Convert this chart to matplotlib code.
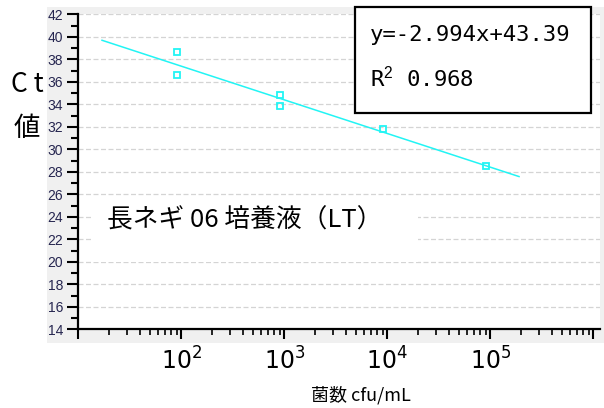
import numpy as np
import matplotlib.pyplot as plt
from matplotlib.patches import Rectangle
from matplotlib.ticker import LogLocator, NullFormatter, MultipleLocator

# 菌数 (cfu/mL) と Ct 値
cfu = [90, 90, 900, 900, 9000, 90000]
ct = [38.7, 36.6, 34.8, 33.9, 31.8, 28.5]

# 回帰式 y = slope * log10(x) + intercept
slope = -2.994
intercept = 43.39
r2 = 0.968
fit_range = [17, 1.9e5]

x_ticks = [1e2, 1e3, 1e4, 1e5]
x_ticklabels = [r'$\mathregular{10^{2}}$', r'$\mathregular{10^{3}}$',
                r'$\mathregular{10^{4}}$', r'$\mathregular{10^{5}}$']
y_ticks = list(range(14, 43, 2))

sample_label = '長ネギ 06 培養液（LT）'
xlabel = '菌数 cfu/mL'

plt.rcParams['mathtext.fontset'] = 'custom'
plt.rcParams['mathtext.rm'] = 'Liberation Sans'
plt.rcParams['mathtext.it'] = 'Liberation Sans:italic'
plt.rcParams['mathtext.bf'] = 'Liberation Sans:bold'

jp = ['Noto Sans CJK JP', 'DejaVu Sans']
cyan = '#22f4f4'

fig = plt.figure(figsize=(6.04, 4.08), dpi=100)

# 目盛り部分の灰色の背景
fig.patches.append(Rectangle((0.0778, 0.1593), 0.9222, 0.8235, transform=fig.transFigure,
                             facecolor='#f0f0f0', edgecolor='none', zorder=-1))

ax = fig.add_axes([0.1296, 0.1929, 0.8638, 0.7716])
ax.set_facecolor('white')
ax.set_xscale('log')
ax.set_xlim(10, 10 ** 6.065)
ax.set_ylim(14, 42)

for side in ['top', 'right']:
    ax.spines[side].set_visible(False)
for side in ['left', 'bottom']:
    ax.spines[side].set_linewidth(1.6)

ax.set_yticks(y_ticks)
ax.yaxis.set_minor_locator(MultipleLocator(1))
ax.tick_params(axis='y', which='major', length=8, width=1.5, pad=3,
               labelsize=10, labelcolor='#262650')
ax.tick_params(axis='y', which='minor', length=5, width=1.5)
for lab in ax.get_yticklabels():
    lab.set_family('Liberation Sans')

ax.xaxis.set_major_locator(LogLocator(base=10, numticks=10))
ax.xaxis.set_minor_locator(LogLocator(base=10, subs=np.arange(2, 10), numticks=20))
ax.xaxis.set_minor_formatter(NullFormatter())
ax.tick_params(axis='x', which='major', length=7, width=1.5, pad=6, labelsize=17)
ax.tick_params(axis='x', which='minor', length=4, width=1.2)
ax.set_xticks([10] + x_ticks + [1e6])
ax.set_xticklabels([''] + x_ticklabels + [''])

ax.grid(axis='y', which='major', color='#d4d4d4', linestyle=(0, (4, 2)), linewidth=0.9)
ax.set_axisbelow(True)

# 近似直線
xf = np.array(fit_range)
ax.plot(xf, slope * np.log10(xf) + intercept, color=cyan, lw=1.1, zorder=3)
ax.plot(cfu, ct, linestyle='none', marker='s', markersize=4, markerfacecolor='none',
        markeredgecolor=cyan, markeredgewidth=1.3, zorder=4)

# サンプル名(白抜き背景)
ax.add_patch(Rectangle((0.026, 0.214), 0.625, 0.206, transform=ax.transAxes,
                       facecolor='white', edgecolor='none', zorder=2))
ax.text(0.318, 0.347, sample_label, transform=ax.transAxes, family=jp, fontsize=18.5,
        ha='center', va='center', zorder=5)

# 回帰式の枠
ax.add_patch(Rectangle((0.530, 0.687), 0.453, 0.337, transform=ax.transAxes,
                       facecolor='white', edgecolor='black', linewidth=1.6,
                       clip_on=False, zorder=6))
ax.text(0.559, 0.935, f'y={slope:.3f}x+{intercept:.2f}', transform=ax.transAxes,
        family='DejaVu Sans Mono', fontsize=16, ha='left', va='center', zorder=7)
ax.text(0.559, 0.801, f'R$^{{2}}$ {r2:.3f}', transform=ax.transAxes,
        family='DejaVu Sans Mono', fontsize=16, ha='left', va='center', zorder=7)

# 軸ラベル
fig.text(0.045, 0.792, 'C t', family=jp, fontsize=19, ha='center', va='center')
fig.text(0.045, 0.686, '値', family=jp, fontsize=19, ha='center', va='center')
fig.text(0.598, 0.032, xlabel, family=jp, fontsize=13, ha='center', va='center')

fig.savefig('out.png', dpi=100)
